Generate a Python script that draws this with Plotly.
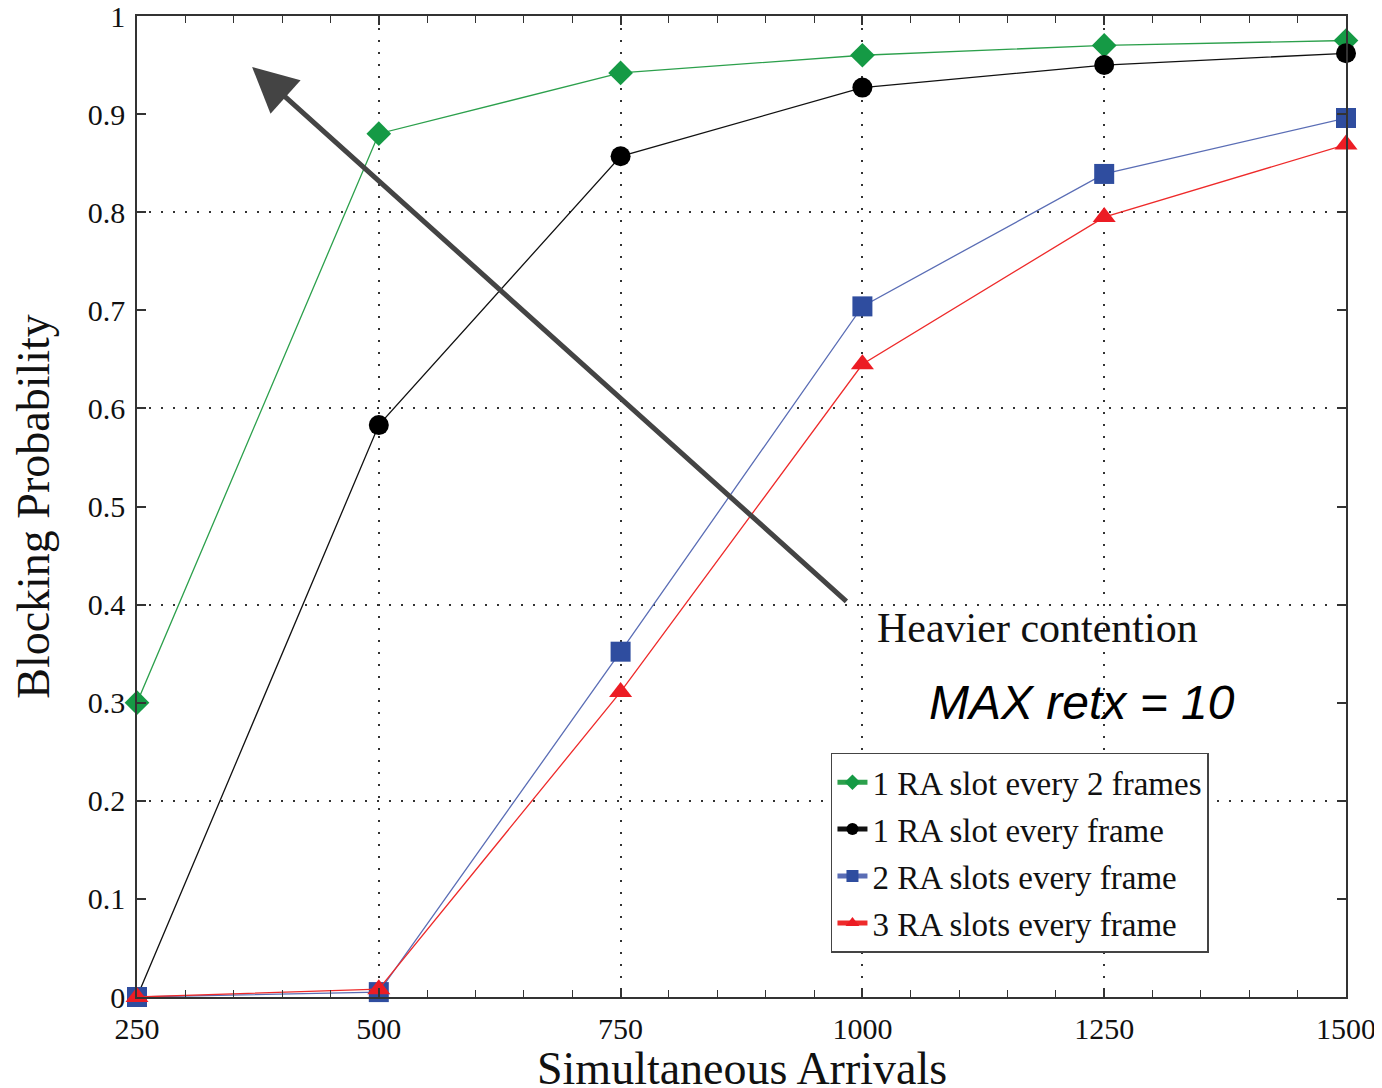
import plotly.graph_objects as go

arrivals = [250, 500, 750, 1000, 1250, 1500]
ra_half = [0.300, 0.880, 0.942, 0.960, 0.970, 0.975]
ra_one = [0.0, 0.583, 0.857, 0.927, 0.950, 0.962]
ra_two = [0.0, 0.005, 0.352, 0.704, 0.839, 0.896]
ra_three = [0.0, 0.008, 0.311, 0.645, 0.795, 0.869]

series_names = ["1 RA slot every 2 frames", "1 RA slot every frame",
                "2 RA slots every frame", "3 RA slots every frame"]
y_tick_vals = [0, 0.1, 0.2, 0.3, 0.4, 0.5, 0.6, 0.7, 0.8, 0.9, 1]
y_tick_text = ["0", "0.1", "0.2", "0.3", "0.4", "0.5", "0.6", "0.7", "0.8", "0.9", "1"]
x_tick_vals = [250, 500, 750, 1000, 1250, 1500]
x_title = "Simultaneous Arrivals"
y_title = "Blocking Probability"

SERIF = "Liberation Serif, Times New Roman, serif"

styles = [
    dict(y=ra_half, line="#2ca04c", marker="#159a45", symbol="diamond", size=19),
    dict(y=ra_one, line="#111111", marker="#000000", symbol="circle", size=20),
    dict(y=ra_two, line="#5a6db5", marker="#2f4d9f", symbol="square", size=20),
    dict(y=ra_three, line="#ee2a2a", marker="#ec1c24", symbol="triangle-up", size=20),
]

fig = go.Figure()
for i, (name, st) in enumerate(zip(series_names, styles)):
    fig.add_trace(go.Scatter(
        x=arrivals, y=st["y"], name=name, mode="lines+markers",
        legendgroup="g%d" % i,
        line=dict(color=st["line"], width=1.3),
        marker=dict(color=st["marker"], symbol=st["symbol"], size=st["size"],
                    line=dict(width=0)),
        cliponaxis=False,
    ))

axis_line = "#333333"
grid_dash = "2px,10px"
# the page body has an 8px margin, so the figure is drawn 8px in from the corner
fig.update_layout(
    width=1374, height=1080,
    paper_bgcolor="white", plot_bgcolor="white",
    margin=dict(l=129, r=36, t=8, b=91),
    font=dict(family=SERIF, color="#111111"),
    showlegend=True,
    legend=dict(
        x=0.574, y=0.249, xanchor="left", yanchor="top",
        bgcolor="white", bordercolor="#444444", borderwidth=1.5,
        font=dict(family=SERIF, size=33, color="#111111"),
        tracegroupgap=1, itemsizing="constant",
    ),
    xaxis=dict(
        range=[250, 1500], tickmode="array", tickvals=x_tick_vals,
        ticks="inside", ticklen=9, tickwidth=1.5, tickcolor=axis_line,
        showline=True, linecolor=axis_line, linewidth=1.5, mirror="allticks",
        showgrid=True, gridcolor="#333333", griddash=grid_dash, gridwidth=1.6,
        zeroline=False, automargin=False, ticklabelstandoff=4,
        ticklabeloverflow="allow",
        tickfont=dict(family=SERIF, size=30, color="#111111"),
        minor=dict(dtick=50, tick0=250, ticks="inside", ticklen=7, tickwidth=1.3,
                   tickcolor=axis_line, showgrid=False),
    ),
    yaxis=dict(
        range=[0, 1], tickmode="array", tickvals=y_tick_vals, ticktext=y_tick_text,
        ticks="inside", ticklen=9, tickwidth=1.5, tickcolor=axis_line,
        showline=True, linecolor=axis_line, linewidth=1.5, mirror="allticks",
        showgrid=False, zeroline=False, automargin=False, ticklabelstandoff=4,
        ticklabeloverflow="allow",
        tickfont=dict(family=SERIF, size=30, color="#111111"),
        minor=dict(tickvals=[0.2, 0.4, 0.6, 0.8], ticks="", showgrid=True,
                   gridcolor="#333333", griddash=grid_dash, gridwidth=1.6),
        title=dict(text=y_title, font=dict(family=SERIF, size=46),
                   standoff=33),
    ),
)

fig.add_annotation(
    x=0.5, y=0, xref="paper", yref="paper", xanchor="center", yanchor="middle",
    yshift=-71, text=x_title, showarrow=False,
    font=dict(family=SERIF, size=46, color="#111111"),
)
fig.add_annotation(
    x=369, y=0.948, ax=985, ay=0.402, xref="x", yref="y", axref="x", ayref="y",
    showarrow=True, arrowhead=2, arrowsize=1.8, arrowwidth=5, arrowcolor="#444444",
    text="",
)
fig.add_annotation(
    x=1013, y=0.376, xref="x", yref="y", xanchor="left", yanchor="middle",
    text="Heavier contention", showarrow=False,
    font=dict(family=SERIF, size=42, color="#111111"),
)
fig.add_annotation(
    x=1227, y=0.300, xref="x", yref="y", xanchor="center", yanchor="middle",
    text="<i>MAX retx = 10</i>", showarrow=False,
    font=dict(family="Liberation Sans, Arial, sans-serif", size=48, color="#000000"),
)

fig.write_html("out.html")
